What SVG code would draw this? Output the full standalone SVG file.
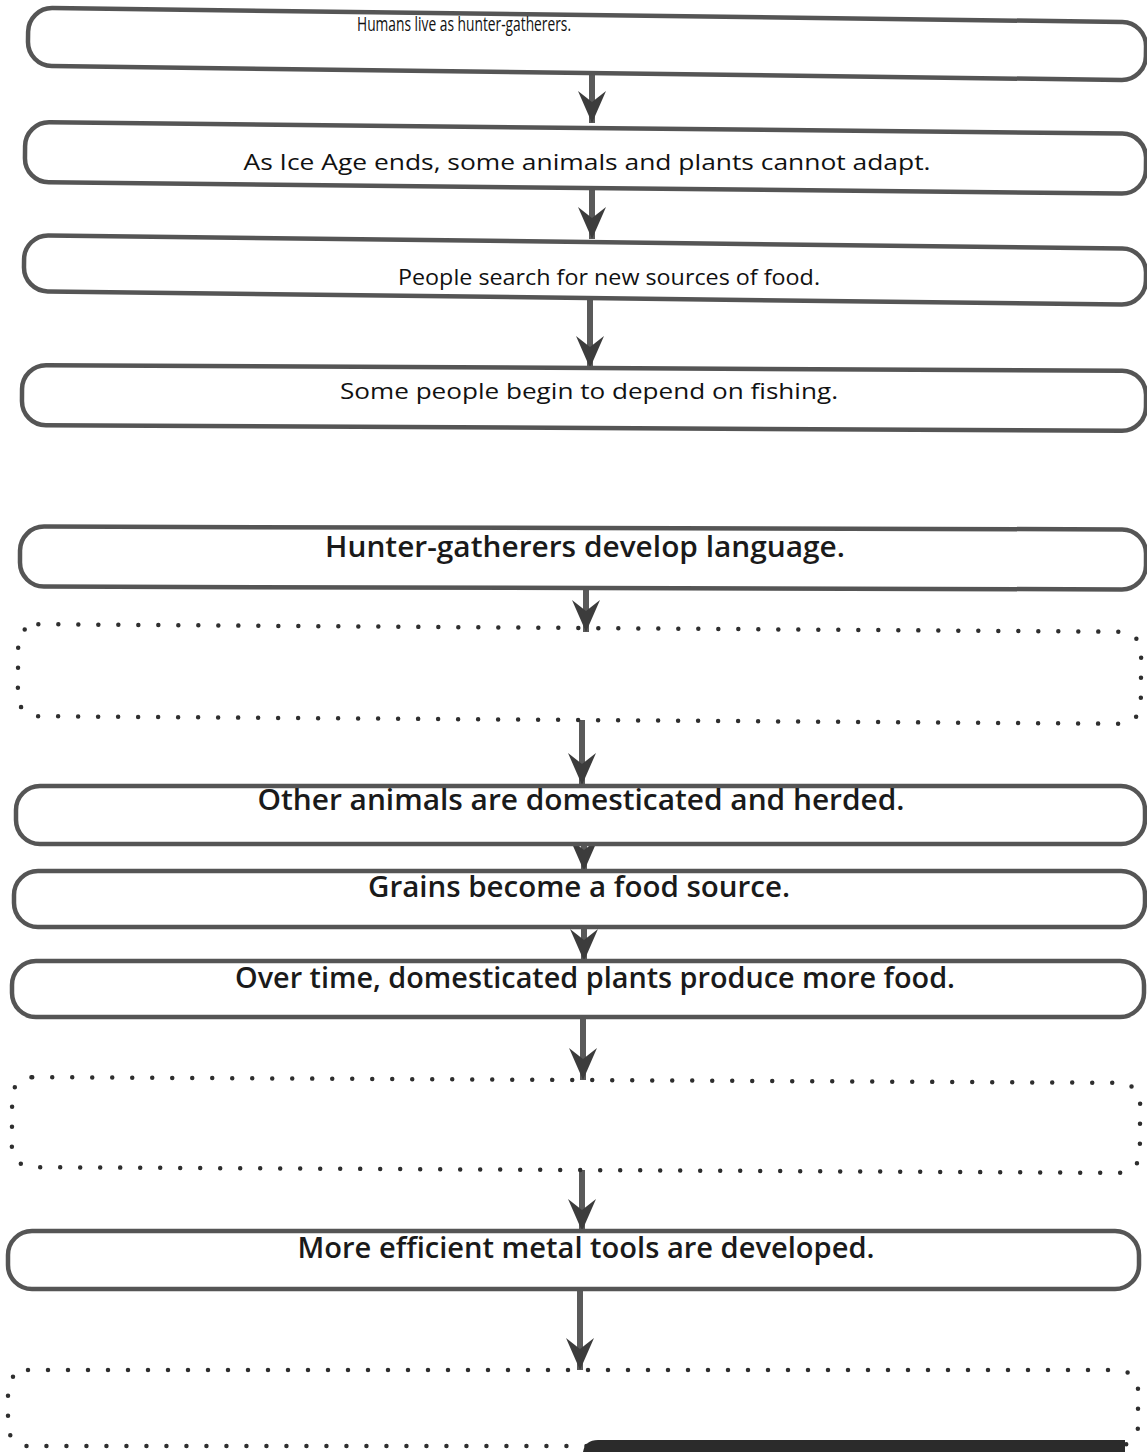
<svg xmlns="http://www.w3.org/2000/svg" width="1147" height="1452" viewBox="0 0 1147 1452">
<defs>
<style>
.box{fill:#fff;stroke:#555;stroke-width:4.5}
.dot{fill:none;stroke:#2e2e2e;stroke-width:4.5;stroke-linecap:round;stroke-dasharray:0 20}
.t1{font-family:"Open Sans","Liberation Sans",sans-serif;fill:#111}
.t2{font-family:"Open Sans","Liberation Sans",sans-serif;font-size:28px;fill:#1a1a1a;font-weight:600}
.shaft{stroke:#5a5a5a;stroke-width:6;fill:none}
</style>
<marker id="ah" markerUnits="userSpaceOnUse" markerWidth="34" markerHeight="30" viewBox="0 0 34 30" refX="32" refY="15" orient="auto">
<path d="M0,1 L32,15 L0,29 L11,15 Z" fill="#3c3c3c"/>
</marker>
</defs>
<rect width="1147" height="1452" fill="#fff"/>

<g id="connectors">
<line class="shaft" x1="592" y1="72" x2="592" y2="123" marker-end="url(#ah)"/>
<line class="shaft" x1="592" y1="189" x2="592" y2="239" marker-end="url(#ah)"/>
<line class="shaft" x1="590" y1="298" x2="590" y2="368" marker-end="url(#ah)"/>
<line class="shaft" x1="586" y1="589" x2="586" y2="632" marker-end="url(#ah)"/>
<line class="shaft" x1="582" y1="720" x2="582" y2="785" marker-end="url(#ah)"/>
<line class="shaft" x1="584" y1="845" x2="584" y2="871" marker-end="url(#ah)"/>
<line class="shaft" x1="584" y1="927" x2="584" y2="961" marker-end="url(#ah)"/>
<line class="shaft" x1="583" y1="1017" x2="583" y2="1080" marker-end="url(#ah)"/>
<line class="shaft" x1="582" y1="1170" x2="582" y2="1231" marker-end="url(#ah)"/>
<line class="shaft" x1="580" y1="1290" x2="580" y2="1370" marker-end="url(#ah)"/>
</g>

<g id="n1">
<rect class="box" x="28" y="15" width="1118" height="58" rx="24" transform="rotate(0.75 587 44)"/>
<text class="t1" x="464" y="31" font-size="20" text-anchor="middle" textLength="214" lengthAdjust="spacingAndGlyphs">Humans live as hunter-gatherers.</text>
</g>
<g id="n2">
<rect class="box" x="25" y="128" width="1121" height="60" rx="24" transform="rotate(0.6 587 158)"/>
<text class="t1" x="587" y="170" font-size="22" text-anchor="middle" textLength="687" lengthAdjust="spacingAndGlyphs">As Ice Age ends, some animals and plants cannot adapt.</text>
</g>
<g id="n3">
<rect class="box" x="24" y="242" width="1122" height="56" rx="24" transform="rotate(0.7 587 270)"/>
<text class="t1" x="609" y="285" font-size="21" text-anchor="middle" textLength="422" lengthAdjust="spacingAndGlyphs">People search for new sources of food.</text>
</g>
<g id="n4">
<rect class="box" x="22" y="368" width="1124" height="60" rx="24" transform="rotate(0.3 587 398)"/>
<text class="t1" x="589" y="399" font-size="22" text-anchor="middle" textLength="498" lengthAdjust="spacingAndGlyphs">Some people begin to depend on fishing.</text>
</g>
<g id="n5">
<rect class="box" x="20" y="528" width="1126" height="60" rx="24" transform="rotate(0.15 587 558)"/>
<text class="t2" x="585" y="557" text-anchor="middle" textLength="520" lengthAdjust="spacingAndGlyphs">Hunter-gatherers develop language.</text>
</g>
<g id="n6">
<rect class="dot" x="18" y="628" width="1123" height="92" rx="20" transform="rotate(0.4 580 674)"/>
</g>
<g id="n7">
<rect class="box" x="16" y="786" width="1129" height="58" rx="24"/>
<text class="t2" x="581" y="810" text-anchor="middle" textLength="647" lengthAdjust="spacingAndGlyphs">Other animals are domesticated and herded.</text>
</g>
<g id="n8">
<rect class="box" x="14" y="871" width="1131" height="56" rx="24"/>
<text class="t2" x="579" y="897" text-anchor="middle" textLength="422" lengthAdjust="spacingAndGlyphs">Grains become a food source.</text>
</g>
<g id="n9">
<rect class="box" x="12" y="961" width="1132" height="56" rx="24"/>
<text class="t2" x="595" y="988" text-anchor="middle" textLength="720" lengthAdjust="spacingAndGlyphs">Over time, domesticated plants produce more food.</text>
</g>
<g id="n10">
<rect class="dot" x="12" y="1080" width="1128" height="90" rx="20" transform="rotate(0.3 576 1125)"/>
</g>
<g id="n11">
<rect class="box" x="8" y="1231" width="1131" height="58" rx="24"/>
<text class="t2" x="586" y="1258" text-anchor="middle" textLength="577" lengthAdjust="spacingAndGlyphs">More efficient metal tools are developed.</text>
</g>
<g id="n12">
<rect class="dot" x="8" y="1370" width="1130" height="76" rx="20"/>
<path d="M583,1452 Q585,1440 598,1440 L1125,1440 L1125,1452 Z" fill="#2b2b2b"/>
</g>
</svg>
